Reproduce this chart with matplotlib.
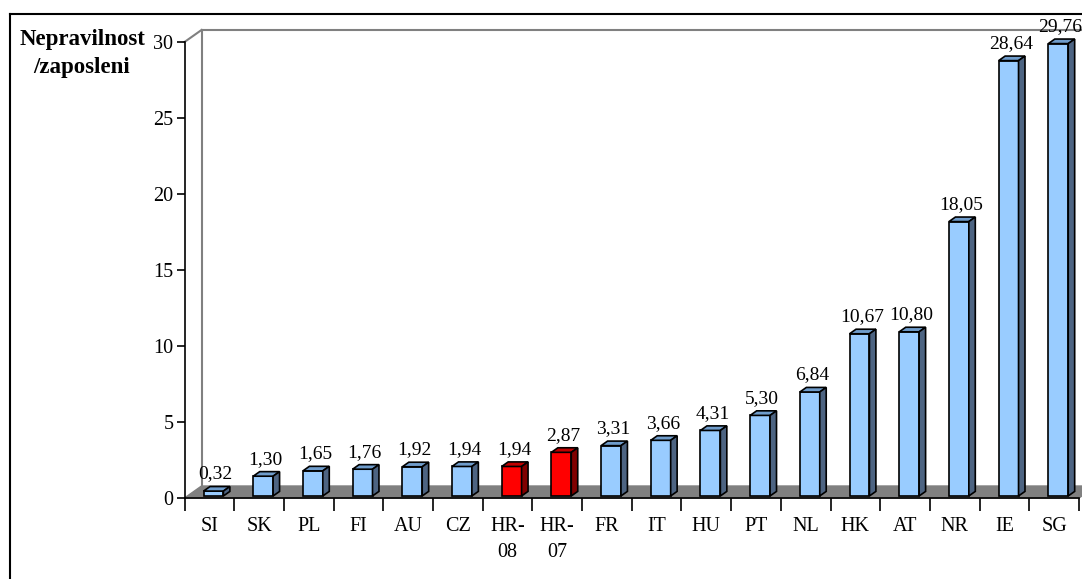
import matplotlib.pyplot as plt
from matplotlib.patches import Polygon, Rectangle
from matplotlib.lines import Line2D

# Data
countries = ['SI', 'SK', 'PL', 'FI', 'AU', 'CZ', 'HR-\n08', 'HR-\n07', 'FR', 'IT',
             'HU', 'PT', 'NL', 'HK', 'AT', 'NR', 'IE', 'SG']
values = [0.32, 1.30, 1.65, 1.76, 1.92, 1.94, 1.94, 2.87, 3.31, 3.66,
          4.31, 5.30, 6.84, 10.67, 10.80, 18.05, 28.64, 29.76]
highlight = ['HR-\n08', 'HR-\n07']
y_ticks = [0, 5, 10, 15, 20, 25, 30]
y_title = 'Nepravilnost\n/zaposleni'

# colours (front, top, side)
blue = ('#99CCFF', '#6F9CCB', '#4D6482')
red = ('#FF0000', '#C00000', '#800000')

plt.rcParams['font.family'] = ['Liberation Serif', 'DejaVu Serif']

W, H = 1082, 579
fig = plt.figure(figsize=(W / 100, H / 100), dpi=100)

# front plane of the 3d box, in pixels
left_px, right_px, top_px, bot_px = 184.5, 1079, 42, 498
ax = fig.add_axes([left_px / W, (H - bot_px) / H, (right_px - left_px) / W, (bot_px - top_px) / H])
n = len(countries)
ax.set_xlim(0, n)
ax.set_ylim(0, 30)

# depth of the box in data units
px_x = (right_px - left_px) / n
px_y = (bot_px - top_px) / 30
Dx = 17 / px_x
Dy = 12 / px_y

# floor and walls
ax.add_patch(Polygon([(0, 0), (n, 0), (n + Dx, Dy), (Dx, Dy)], closed=True,
                     facecolor='#808080', edgecolor='#808080', lw=1, zorder=1, clip_on=False))
wall = dict(color='#808080', lw=1.5, zorder=1, clip_on=False)
ax.add_line(Line2D([Dx, Dx], [Dy, 30 + Dy], **wall))
ax.add_line(Line2D([Dx, n + Dx], [30 + Dy, 30 + Dy], **wall))
ax.add_line(Line2D([0, Dx], [30, 30 + Dy], **wall))

# bars
f1, f2 = 0.17, 0.55
bw = 0.40
for i, (c, v) in enumerate(zip(countries, values)):
    front, top, side = red if c in highlight else blue
    xl = i + 0.325
    x0 = xl + f1 * Dx
    y0 = f1 * Dy
    ax.add_patch(Rectangle((x0, y0), bw, v, facecolor=front, edgecolor='black',
                           lw=1.2, zorder=3, clip_on=False))
    ax.add_patch(Polygon([(x0, v + y0), (x0 + bw, v + y0),
                          (xl + bw + f2 * Dx, v + f2 * Dy), (xl + f2 * Dx, v + f2 * Dy)],
                         closed=True, facecolor=top, edgecolor='black', lw=1.2, zorder=3, clip_on=False))
    ax.add_patch(Polygon([(x0 + bw, y0), (xl + bw + f2 * Dx, f2 * Dy),
                          (xl + bw + f2 * Dx, v + f2 * Dy), (x0 + bw, v + y0)],
                         closed=True, facecolor=side, edgecolor='black', lw=1.2, zorder=3, clip_on=False))
    label = f'{v:.2f}'.replace('.', ',')
    ax.text(xl + bw / 2 + (f1 + f2) / 2 * Dx - 0.02, v + f2 * Dy + 8 / px_y, label,
            ha='center', va='baseline', fontsize=14, zorder=5)

# axes styling
for s in ['top', 'right']:
    ax.spines[s].set_visible(False)
ax.spines['left'].set_linewidth(1.2)
ax.spines['bottom'].set_linewidth(1.2)
ax.spines['bottom'].set_zorder(2)
ax.set_yticks(y_ticks)
ax.set_yticklabels([str(t) for t in y_ticks], fontsize=14.5)
ax.tick_params(axis='y', length=6, width=1.2, pad=2)

ax.set_xticks(range(n + 1))
ax.set_xticklabels([])
ax.tick_params(axis='x', which='major', length=9, width=1.2, direction='out')
ax.set_xticks([i + 0.5 for i in range(n)], minor=True)
ax.set_xticklabels(countries, minor=True, fontsize=14.5, linespacing=1.5, va='top')
ax.tick_params(axis='x', which='minor', length=0, pad=14)
ax.patch.set_alpha(0)

# title at top left
fig.text(82 / W, 1 - 29 / H, y_title, ha='center', va='top', fontsize=16.5,
         fontweight='bold', linespacing=1.45)

# outer frame
fig.add_artist(Line2D([10 / W, 10 / W], [0, 1 - 14 / H], color='black', lw=1.5))
fig.add_artist(Line2D([10 / W, 1], [1 - 14 / H, 1 - 14 / H], color='black', lw=1.5))

fig.savefig('out.png', dpi=100)
